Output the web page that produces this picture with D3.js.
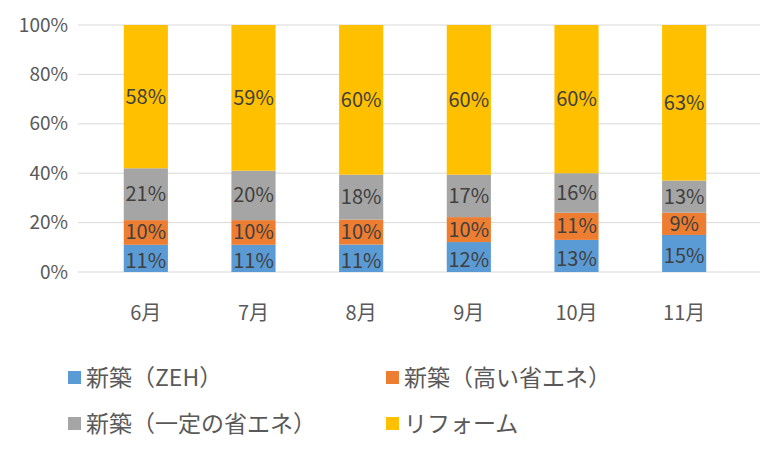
<!DOCTYPE html>
<html><head><meta charset="utf-8">
<script src="https://cdn.jsdelivr.net/npm/d3@7"></script>
<style>body{margin:0;background:#fff}</style></head>
<body><svg id="c" width="762" height="459"></svg>
<script>
const categories=["6月","7月","8月","9月","10月","11月"];
const seriesNames=["新築（ZEH）","新築（高い省エネ）","新築（一定の省エネ）","リフォーム"];
const zeh=[11,11,11,12,13,15];
const high=[10,10,10,10,11,9];
const mid=[21,20,18,17,16,13];
const reform=[58,59,60,60,60,63];
const yTicks=[0,20,40,60,80,100];
const colors=["#5B9BD5","#ED7D31","#A5A5A5","#FFC000"];
const font="'Noto Sans CJK JP','Noto Sans',sans-serif";
const svg=d3.select("#c");
const x=d3.scaleBand().domain(categories).range([92,738]).paddingInner(0.59).paddingOuter(0.295);
const y=d3.scaleLinear().domain([0,1]).range([272,25]);
svg.selectAll(".g").data(yTicks).join("line").attr("x1",78).attr("x2",760)
 .attr("y1",d=>y(d/100)).attr("y2",d=>y(d/100)).attr("stroke","#d9d9d9").attr("stroke-width",1);
svg.selectAll(".yl").data(yTicks).join("text").attr("x",68).attr("y",d=>y(d/100)).attr("dy","0.35em")
 .attr("text-anchor","end").attr("font-family",font).attr("font-size",19).attr("fill","#595959").text(d=>d+"%");
const rows=categories.map((c,i)=>({c,v:[zeh[i],high[i],mid[i],reform[i]]}));
const stack=d3.stack().keys([0,1,2,3]).value((d,k)=>d.v[k]).offset(d3.stackOffsetExpand);
const layers=stack(rows);
layers.forEach((L,k)=>{
  svg.selectAll(".b"+k).data(L).join("rect").attr("x",d=>x(d.data.c)).attr("width",x.bandwidth())
   .attr("y",d=>y(d[1])).attr("height",d=>y(d[0])-y(d[1])).attr("fill",colors[k]);
});
layers.forEach((L,k)=>{
  svg.selectAll(".t"+k).data(L).join("text").attr("x",d=>x(d.data.c)+x.bandwidth()/2)
   .attr("y",d=>y((d[0]+d[1])/2)+(k===0?3:0)).attr("dy","0.35em").attr("text-anchor","middle")
   .attr("font-family",font).attr("font-size",20).attr("fill","#404040").text(d=>d.data.v[k]+"%");
});
svg.selectAll(".xl").data(categories).join("text").attr("x",d=>x(d)+x.bandwidth()/2).attr("y",320)
 .attr("text-anchor","middle").attr("font-family",font).attr("font-size",20).attr("fill","#595959").text(d=>d);
const lg=[[68,378],[386,378],[68,424],[386,424]];
seriesNames.forEach((n,k)=>{
  svg.append("rect").attr("x",lg[k][0]).attr("y",lg[k][1]-7).attr("width",13).attr("height",13).attr("fill",colors[k]);
  svg.append("text").attr("x",lg[k][0]+18).attr("y",lg[k][1]).attr("dy","0.35em").attr("font-family",font)
   .attr("font-size",23).attr("fill","#595959").text(n);
});
</script></body></html>
